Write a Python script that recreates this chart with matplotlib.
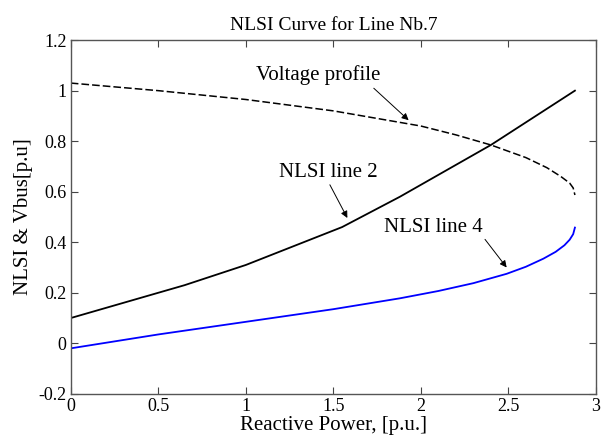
import numpy as np
import matplotlib
matplotlib.use('Agg')
import matplotlib.pyplot as plt

matplotlib.rcParams.update({'font.family': 'Liberation Serif', 'font.size': 14})

# NLSI line 2
q_l2 = [0.0, 0.65, 1.0, 1.55, 1.88, 2.4, 2.88]
nlsi_l2 = [0.10, 0.23, 0.31, 0.46, 0.58, 0.785, 1.0]

# NLSI line 4
q_l4 = [0.0, 0.5, 1.0, 1.5, 1.88, 2.1, 2.3, 2.49, 2.6, 2.7, 2.77, 2.82, 2.85, 2.87, 2.88]
nlsi_l4 = [-0.02, 0.035, 0.085, 0.135, 0.178, 0.207, 0.238, 0.275, 0.303, 0.335, 0.362, 0.388, 0.41, 0.432, 0.458]

# Voltage profile
q_v = [0.0, 0.5, 1.0, 1.5, 2.0, 2.2, 2.4, 2.6, 2.72, 2.8, 2.85, 2.87, 2.88]
vbus = [1.03, 1.0, 0.965, 0.92, 0.86, 0.825, 0.785, 0.735, 0.695, 0.66, 0.634, 0.615, 0.587]

fig = plt.figure(figsize=(6.05, 4.41), dpi=100)
ax = fig.add_axes([0.117, 0.107, 0.868, 0.802])

ax.plot(q_v, vbus, 'k--', lw=1.1, dashes=(5, 2))
ax.plot(q_l2, nlsi_l2, 'k-', lw=1.3)
ax.plot(q_l4, nlsi_l4, '-', color='#0000ff', lw=1.3)

ax.set_xlim(0, 3)
ax.set_ylim(-0.2, 1.2)
ax.set_xticks([0, 0.5, 1, 1.5, 2, 2.5, 3])
ax.set_xticklabels(['0', '0.5', '1', '1.5', '2', '2.5', '3'])
ax.set_yticks([-0.2, 0, 0.2, 0.4, 0.6, 0.8, 1, 1.2])
ax.set_yticklabels(['-0.2', '0', '0.2', '0.4', '0.6', '0.8', '1', '1.2'])
ax.tick_params(direction='in', top=True, right=True, length=5, labelsize=13, pad=3, color='#444444')
for s in ax.spines.values():
    s.set_color('#555555')
    s.set_linewidth(1.0)

ax.set_xlabel('Reactive Power, [p.u.]', fontsize=15, labelpad=1)
ax.set_ylabel('NLSI & Vbus[p.u]', fontsize=15, labelpad=4)
ax.set_title('NLSI Curve for Line Nb.7', fontsize=14, pad=7)

arr = dict(arrowstyle='-|>', color='k', lw=0.7, mutation_scale=10)
ax.annotate('Voltage profile', xy=(1.93, 0.883), xytext=(1.06, 1.06),
            fontsize=15, va='center', ha='left', arrowprops=dict(arr, shrinkA=0, shrinkB=0,
            relpos=(0.92, 0.0)))
ax.annotate('NLSI line 2', xy=(1.58, 0.496), xytext=(1.19, 0.676),
            fontsize=15, va='center', ha='left', arrowprops=dict(arr, shrinkA=0, shrinkB=0,
            relpos=(0.5, 0.0)))
ax.annotate('NLSI line 4', xy=(2.49, 0.30), xytext=(1.79, 0.46),
            fontsize=15, va='center', ha='left', arrowprops=dict(arr, shrinkA=0, shrinkB=0,
            relpos=(1.0, 0.0)))

fig.savefig('out.png', dpi=100)
